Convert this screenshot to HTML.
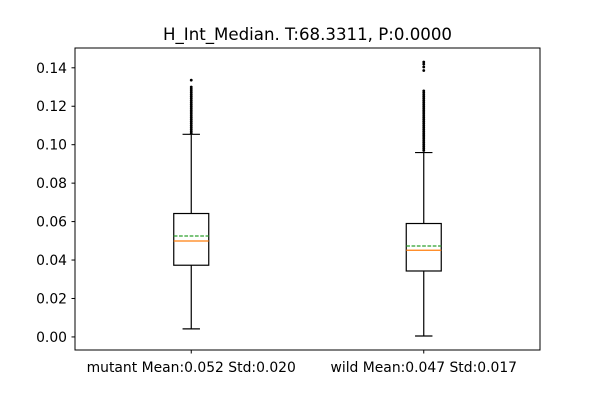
<!DOCTYPE html>
<html><head><meta charset="utf-8"><style>
body{margin:0;background:#fff;}
svg text{font-family:"DejaVu Sans","Liberation Sans",sans-serif;}
</style></head><body>
<svg id="chart" width="600" height="400" viewBox="0 0 600 400" xmlns="http://www.w3.org/2000/svg">
<rect width="600" height="400" fill="#fff"/>
<text x="307.5" y="40" text-anchor="middle" font-size="16.4" textLength="289" lengthAdjust="spacingAndGlyphs">H_Int_Median. T:68.3311, P:0.0000</text>
<g id="plot"></g>
<rect x="75" y="48" width="465" height="302" fill="none" stroke="#000" stroke-width="1"/>
</svg>
<script>
const categories = ["mutant Mean:0.052 Std:0.020", "wild Mean:0.047 Std:0.017"];
const whiskerLow = [0.0042, 0.0005];
const q1 = [0.0373, 0.0343];
const medians = [0.0499, 0.0451];
const means = [0.0525, 0.0473];
const q3 = [0.0642, 0.0590];
const whiskerHigh = [0.1054, 0.0959];
const outliersMutant = [0.106,0.107,0.108,0.109,0.110,0.111,0.112,0.113,0.114,0.115,0.116,0.117,0.118,0.119,0.120,0.121,0.122,0.123,0.124,0.125,0.126,0.127,0.128,0.129,0.130,0.1336];
const outliersWild = [0.097,0.098,0.099,0.100,0.101,0.102,0.103,0.104,0.105,0.106,0.107,0.108,0.109,0.110,0.111,0.112,0.113,0.114,0.115,0.116,0.117,0.118,0.119,0.120,0.121,0.122,0.123,0.124,0.125,0.126,0.127,0.128,0.1386,0.1404,0.1419,0.1430];
const yTicks = [0.00,0.02,0.04,0.06,0.08,0.10,0.12,0.14];

const L=75,R=540,T=48,B=350, yMin=-0.0068, yMax=0.1503;
const y = v => B - (v - yMin)/(yMax - yMin)*(B - T);
const x = i => L + (i + 1 - 0.5)/2*(R - L);
const NS="http://www.w3.org/2000/svg";
const g=document.getElementById('plot');
function mk(tag, attrs){const e=document.createElementNS(NS,tag);for(const k in attrs)e.setAttribute(k,attrs[k]);g.appendChild(e);return e;}

yTicks.forEach(t=>{
  const yy=y(t);
  const tk=mk('line',{x1:L-3.5,x2:L,y1:yy,y2:yy,stroke:'#000','stroke-width':1});
  
  
  const lb=mk('text',{x:L-8,y:yy+5,'text-anchor':'end','font-size':'13.9'});
  lb.textContent=t.toFixed(2);
  
  
});

const outs=[outliersMutant,outliersWild];
categories.forEach((c,i)=>{
  const cx=x(i), hw=17.5, cw=8.7;
  const tk=mk('line',{x1:cx,x2:cx,y1:B,y2:B+3.5,stroke:'#000','stroke-width':1});
  
  
  const lb=mk('text',{x:cx,y:B+22,'text-anchor':'middle','font-size':'13.9'});
  lb.textContent=c;
  
  
  const w1=mk('line',{x1:cx,x2:cx,y1:y(whiskerLow[i]),y2:y(q1[i]),stroke:'#000','stroke-width':1.2});
  
  
  const w2=mk('line',{x1:cx,x2:cx,y1:y(q3[i]),y2:y(whiskerHigh[i]),stroke:'#000','stroke-width':1.2});
  
  
  const c1=mk('line',{x1:cx-cw,x2:cx+cw,y1:y(whiskerLow[i]),y2:y(whiskerLow[i]),stroke:'#000','stroke-width':1.2});
  
  
  const c2=mk('line',{x1:cx-cw,x2:cx+cw,y1:y(whiskerHigh[i]),y2:y(whiskerHigh[i]),stroke:'#000','stroke-width':1.2});
  
  
  const bx=mk('rect',{x:cx-hw,y:y(q3[i]),width:2*hw,height:y(q1[i])-y(q3[i]),fill:'none',stroke:'#000','stroke-width':1.2});
  
  
  const md=mk('line',{x1:cx-hw,x2:cx+hw,y1:y(medians[i]),y2:y(medians[i]),stroke:'#ff7f0e','stroke-width':1.2});
  
  
  const mn=mk('line',{x1:cx-hw,x2:cx+hw,y1:y(means[i]),y2:y(means[i]),stroke:'#2ca02c','stroke-width':1.2,'stroke-dasharray':'3.7,1.6'});
  
  
  outs[i].forEach(v=>{
    const p=mk('circle',{cx:cx,cy:y(v),r:1.4,fill:'#000'});
    
    
  });
});
</script>
</body></html>
